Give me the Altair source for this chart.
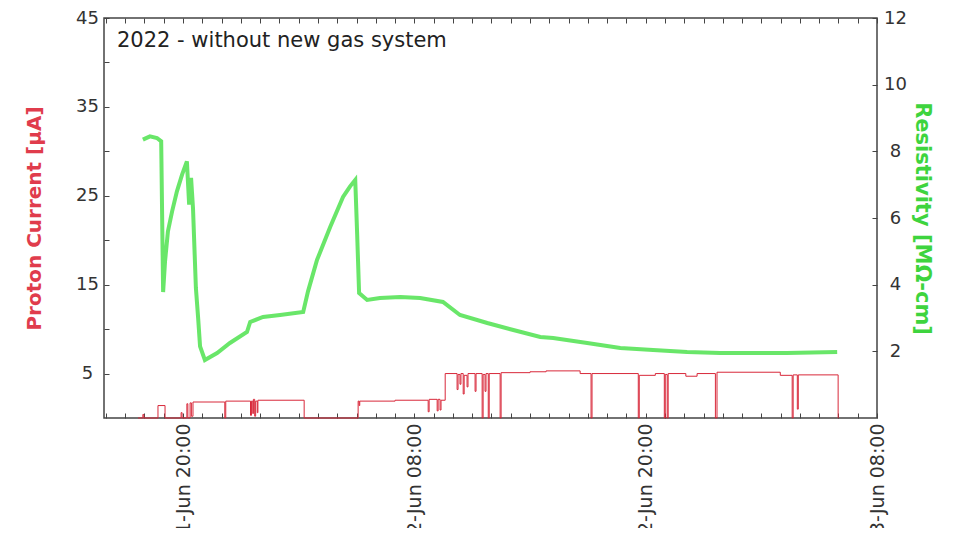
import altair as alt
import pandas as pd

# ---------------- data ----------------
red_time = [
    "2022-06-01T17:40", "2022-06-01T17:55", "2022-06-01T17:58", "2022-06-01T18:42", "2022-06-01T19:04",
    "2022-06-01T19:54", "2022-06-01T19:57", "2022-06-01T20:12", "2022-06-01T20:15", "2022-06-01T20:22",
    "2022-06-01T20:26", "2022-06-01T20:31", "2022-06-01T22:10", "2022-06-01T22:13", "2022-06-01T23:30",
    "2022-06-01T23:33", "2022-06-01T23:37", "2022-06-01T23:39", "2022-06-01T23:43", "2022-06-01T23:46",
    "2022-06-01T23:51", "2022-06-01T23:53", "2022-06-02T02:17", "2022-06-02T05:05", "2022-06-02T05:08",
    "2022-06-02T05:10", "2022-06-02T07:00", "2022-06-02T08:43", "2022-06-02T08:46", "2022-06-02T09:11",
    "2022-06-02T09:14", "2022-06-02T09:20", "2022-06-02T09:23", "2022-06-02T09:36", "2022-06-02T10:13",
    "2022-06-02T10:16", "2022-06-02T10:22", "2022-06-02T10:25", "2022-06-02T10:32", "2022-06-02T10:35",
    "2022-06-02T10:44", "2022-06-02T10:47", "2022-06-02T11:09", "2022-06-02T11:12", "2022-06-02T11:31",
    "2022-06-02T11:34", "2022-06-02T11:40", "2022-06-02T11:43", "2022-06-02T11:50", "2022-06-02T11:53",
    "2022-06-02T12:27", "2022-06-02T12:30", "2022-06-02T14:00", "2022-06-02T14:50", "2022-06-02T16:36",
    "2022-06-02T17:10", "2022-06-02T17:13", "2022-06-02T19:37", "2022-06-02T19:40", "2022-06-02T20:30",
    "2022-06-02T20:58", "2022-06-02T21:01", "2022-06-02T21:07", "2022-06-02T21:10", "2022-06-02T22:05",
    "2022-06-02T22:40", "2022-06-02T23:37", "2022-06-02T23:42", "2022-06-03T02:59", "2022-06-03T03:36",
    "2022-06-03T03:39", "2022-06-03T03:52", "2022-06-03T03:55", "2022-06-03T05:59", "2022-06-03T06:00",
]
red_current = [
    0, 0.4, 0, 1.4, 0,
    0.6, 0, 1.6, 0, 1.7,
    0.2, 1.8, 0, 1.9, 0.3,
    1.9, 0.5, 2.1, 0.2, 1.9,
    0.6, 2.0, 0, 1.9, 1.4,
    1.9, 2.0, 0.7, 2.1, 0.8,
    2.1, 0.9, 2.0, 5.0, 3.2,
    4.9, 3.8, 5.0, 2.7, 4.8,
    3.5, 5.0, 3.0, 5.0, 0,
    4.9, 3.0, 5.0, 0, 5.0,
    0, 5.1, 5.2, 5.3, 5.0,
    0, 5.0, 0, 4.8, 5.0,
    0, 4.9, 0, 5.0, 4.7,
    5.0, 0, 5.15, 4.8, 0,
    4.85, 1.0, 4.85, 0, 0,
]

green_time = [
    "2022-06-01T17:55", "2022-06-01T18:17", "2022-06-01T18:39", "2022-06-01T18:52", "2022-06-01T18:58",
    "2022-06-01T19:04", "2022-06-01T19:13", "2022-06-01T19:26", "2022-06-01T19:41", "2022-06-01T19:57",
    "2022-06-01T20:12", "2022-06-01T20:19", "2022-06-01T20:25", "2022-06-01T20:31", "2022-06-01T20:40",
    "2022-06-01T20:47", "2022-06-01T20:53", "2022-06-01T21:08", "2022-06-01T21:46", "2022-06-01T22:26",
    "2022-06-01T23:19", "2022-06-01T23:29", "2022-06-02T00:09", "2022-06-02T01:02", "2022-06-02T02:14",
    "2022-06-02T02:29", "2022-06-02T02:57", "2022-06-02T03:38", "2022-06-02T04:18", "2022-06-02T04:40",
    "2022-06-02T04:56", "2022-06-02T05:02", "2022-06-02T05:08", "2022-06-02T05:33", "2022-06-02T06:13",
    "2022-06-02T07:16", "2022-06-02T08:18", "2022-06-02T09:29", "2022-06-02T10:22", "2022-06-02T11:47",
    "2022-06-02T13:08", "2022-06-02T14:32", "2022-06-02T15:12", "2022-06-02T16:58", "2022-06-02T18:41",
    "2022-06-02T20:23", "2022-06-02T22:09", "2022-06-02T23:52", "2022-06-03T01:35", "2022-06-03T03:20",
    "2022-06-03T05:56",
]
green_resistivity = [
    8.35, 8.45, 8.4, 8.3, 3.78,
    4.7, 5.6, 6.2, 6.8, 7.3,
    7.7, 6.4, 7.2, 6.3, 3.9,
    3.0, 2.15, 1.74, 1.95, 2.25,
    2.58, 2.88, 3.03, 3.09, 3.18,
    3.8, 4.74, 5.73, 6.63, 6.95,
    7.14, 5.5, 3.75, 3.54, 3.6,
    3.63, 3.6, 3.48, 3.09, 2.85,
    2.64, 2.43, 2.4, 2.25, 2.1,
    2.04, 1.98, 1.95, 1.95, 1.95,
    1.98,
]

left_ticks = [5, 10, 15, 20, 25, 30, 35, 40, 45]
right_ticks = [2, 4, 6, 8, 10, 12]
annotation = ["2022 - without new gas system"]

# ---------------- styling ----------------
RED = "#d8283a"
RED_TITLE = "#e03c4c"
GREEN = "#44e044"
GREEN_TITLE = "#3ed43e"
FONT = "DejaVu Sans"

red_df = pd.DataFrame({"time": red_time, "current": red_current})
green_df = pd.DataFrame({"time": green_time, "resistivity": green_resistivity})
text_df = pd.DataFrame({"label": annotation})

x_scale = alt.Scale(domain=[
    alt.DateTime(year=2022, month=6, date=1, hours=15, minutes=54),
    alt.DateTime(year=2022, month=6, date=3, hours=8, minutes=0),
])

label_expr = ("(hours(datum.value) == 8 || hours(datum.value) == 20) && minutes(datum.value) == 0 "
              "? timeFormat(datum.value, '%d-%b %H:%M') : ''")

red = alt.Chart(red_df).mark_line(interpolate="step-after", color=RED, strokeWidth=1).encode(
    x=alt.X("time:T", scale=x_scale, title=None,
            axis=alt.Axis(orient="bottom", tickCount=40,
                          labelExpr=label_expr, labelAngle=270, labelAlign="right",
                          labelBaseline="middle", labelPadding=5, offset=-5, tickSize=5,
                          labelOverlap=False, labelFontSize=19)),
    y=alt.Y("current:Q", scale=alt.Scale(domain=[0, 45]),
            axis=alt.Axis(orient="left", values=left_ticks, offset=-5, tickSize=5,
                          labelAlign="center", labelPadding=17,
                          labelExpr="datum.value % 10 == 5 ? datum.label : ''",
                          title="Proton Current [μA]", titleColor=RED_TITLE, titleFontSize=20,
                          titleFontWeight="bold", titleFont=FONT, titlePadding=31)),
)

green = alt.Chart(green_df).mark_line(color=GREEN, strokeWidth=4, opacity=0.8).encode(
    x=alt.X("time:T", scale=x_scale, title=None,
            axis=alt.Axis(orient="top", tickCount=40, labels=False, offset=-5, tickSize=5)),
    y=alt.Y("resistivity:Q", scale=alt.Scale(domain=[0, 12]),
            axis=alt.Axis(orient="right", values=right_ticks, offset=-5, tickSize=5,
                          labelAlign="center", labelPadding=18,
                          title="Resistivity [MΩ-cm]", titleColor=GREEN_TITLE, titleFontSize=21,
                          titleFontWeight="bold", titleFont=FONT, titlePadding=5)),
)

text = alt.Chart(text_df).mark_text(align="left", baseline="middle", fontSize=21, font=FONT,
                                    color="#222222").encode(
    x=alt.value(13), y=alt.value(23), text="label:N")

chart = alt.layer(red, green, text).resolve_scale(y="independent").resolve_axis(
    x="independent", y="independent"
).properties(
    width=773, height=400,
    autosize=alt.AutoSizeParams(type="none"),
    padding={"left": 96, "top": 10, "right": 74, "bottom": 110},
).configure_view(stroke="#444444", strokeWidth=1.5).configure_axis(
    domain=False, grid=False, labelFont=FONT, labelFontSize=18, labelColor="#333333",
    tickColor="#444444", tickWidth=1,
)

chart.save("out.html", embed_options={"renderer": "svg", "actions": False})
